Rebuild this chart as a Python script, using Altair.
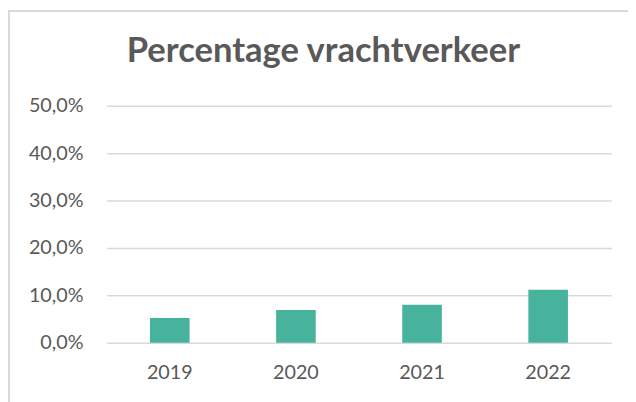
import altair as alt
import pandas as pd

years = ["2019", "2020", "2021", "2022"]
share_pct = [5.2, 6.9, 8.0, 11.2]
y_ticks = [0, 10, 20, 30, 40, 50]

df = pd.DataFrame({"jaar": years, "pct": share_pct})

GREY = "#595959"
GRID = "#d9d9d9"
FONT = "Lato"

bars = alt.Chart(df).mark_bar(color="#47B39C").encode(
    x=alt.X(
        "jaar:N",
        sort=years,
        scale=alt.Scale(paddingInner=0.686, paddingOuter=0.343),
        axis=alt.Axis(
            title=None, labelAngle=0, ticks=False, domain=False,
            labelFont=FONT, labelFontSize=20, labelColor=GREY,
            labelPadding=20, grid=False,
        ),
    ),
    y=alt.Y(
        "pct:Q",
        scale=alt.Scale(domain=[0, 50], nice=False),
        axis=alt.Axis(
            title=None, values=y_ticks, ticks=False, domain=False,
            labelFont=FONT, labelFontSize=20, labelColor=GREY,
            labelPadding=24, grid=True, gridColor=GRID, gridWidth=1.5,
            labelExpr="replace(format(datum.value, '.1f'), '.', ',') + '%'",
        ),
    ),
)

frame_df = pd.DataFrame({"a": [0]})
left_line = alt.Chart(frame_df).mark_rule(color=GRID, strokeWidth=2).encode(
    x=alt.value(-99), y=alt.value(-97), y2=alt.value(300)
)
top_line = alt.Chart(frame_df).mark_rule(color=GRID, strokeWidth=2).encode(
    x=alt.value(-100), x2=alt.value(540), y=alt.value(-96)
)

chart = alt.layer(left_line, top_line, bars).properties(
    width=511,
    height=240,
    padding={"left": 100, "top": 96.5, "right": 17, "bottom": 57},
    autosize=alt.AutoSizeParams(type="none"),
    title=alt.TitleParams(
        "Percentage vrachtverkeer",
        font=FONT, fontSize=35, fontWeight="bold", color=GREY,
        anchor="middle", frame="group", dx=-36, offset=-89,
        baseline="alphabetic",
    ),
).configure(background="white").configure_view(strokeWidth=0, stroke="transparent")

chart.save("out.html", embed_options={"renderer": "svg", "actions": False})
